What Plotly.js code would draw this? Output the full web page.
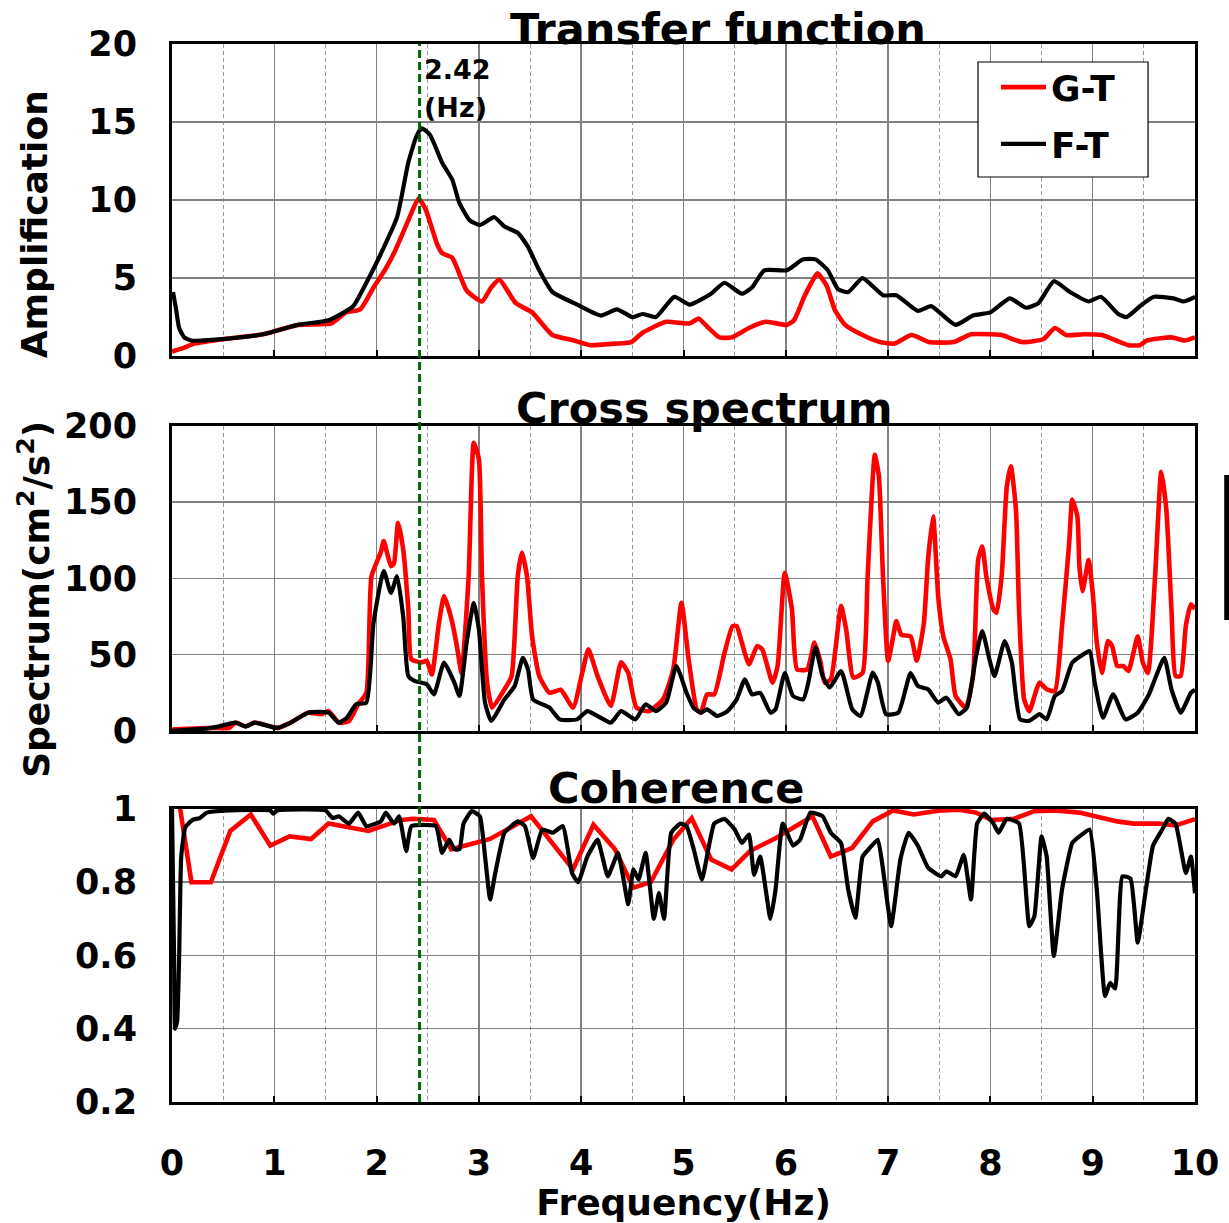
<!DOCTYPE html>
<html>
<head>
<meta charset="utf-8">
<script src="https://cdn.plot.ly/plotly-3.0.1.min.js"></script>
<style>
  html, body { margin: 0; padding: 0; background: #ffffff; }
  #chart { width: 1229px; height: 1223px; }
</style>
</head>
<body>
<div id="chart"></div>
<script>
// ---- Transfer function (amplification) ----
const tfFreqGT = [0.00, 0.10, 0.22, 0.52, 0.89, 1.23, 1.56, 1.70, 1.84, 1.97, 2.08, 2.17, 2.31, 2.41, 2.48, 2.59, 2.64, 2.74, 2.88, 3.03, 3.12, 3.20, 3.36, 3.52, 3.72, 3.93, 4.09, 4.33, 4.49, 4.60, 4.83, 5.00, 5.06, 5.15, 5.23, 5.35, 5.47, 5.64, 5.81, 6.01, 6.08, 6.18, 6.25, 6.31, 6.40, 6.48, 6.58, 6.75, 6.92, 7.06, 7.23, 7.40, 7.64, 7.81, 8.01, 8.11, 8.31, 8.52, 8.63, 8.74, 8.92, 9.09, 9.23, 9.35, 9.46, 9.53, 9.77, 9.90, 10.00];
const tfAmpGT  = [0.3, 0.5, 0.8, 1.1, 1.4, 2.0, 2.1, 2.8, 3.0, 4.4, 5.5, 6.6, 8.7, 10.1, 9.4, 7.2, 6.6, 6.3, 4.2, 3.5, 4.4, 4.9, 3.4, 2.8, 1.35, 1.0, 0.7, 0.8, 0.9, 1.5, 2.2, 2.1, 2.1, 2.4, 1.9, 1.2, 1.2, 1.8, 2.2, 2.0, 2.3, 3.8, 4.7, 5.3, 4.5, 2.95, 2.0, 1.35, 0.9, 0.8, 1.35, 0.9, 0.9, 1.4, 1.4, 1.35, 0.9, 1.1, 1.8, 1.35, 1.4, 1.35, 1.0, 0.7, 0.7, 1.0, 1.2, 1.0, 1.2];

const tfFreqFT = [0.01, 0.04, 0.07, 0.12, 0.19, 0.52, 0.89, 1.23, 1.53, 1.77, 1.90, 2.03, 2.20, 2.31, 2.39, 2.44, 2.52, 2.64, 2.74, 2.81, 2.91, 3.01, 3.15, 3.25, 3.38, 3.48, 3.59, 3.72, 3.93, 4.19, 4.35, 4.50, 4.60, 4.73, 4.91, 5.06, 5.27, 5.40, 5.57, 5.67, 5.79, 6.01, 6.17, 6.29, 6.41, 6.51, 6.61, 6.75, 6.95, 7.08, 7.29, 7.42, 7.66, 7.83, 8.00, 8.19, 8.35, 8.47, 8.62, 8.78, 8.96, 9.08, 9.25, 9.33, 9.48, 9.60, 9.79, 9.89, 10.00];
const tfAmpFT  = [4.1, 3.0, 1.8, 1.2, 1.0, 1.1, 1.4, 2.0, 2.3, 3.2, 4.7, 6.4, 8.9, 12.4, 14.1, 14.6, 14.2, 12.4, 11.3, 9.8, 8.7, 8.4, 8.9, 8.3, 7.9, 7.0, 5.5, 4.1, 3.4, 2.6, 3.0, 2.5, 2.7, 2.5, 3.8, 3.3, 4.0, 4.7, 4.0, 4.4, 5.5, 5.5, 6.2, 6.2, 5.5, 4.3, 4.1, 5.0, 3.9, 3.9, 2.9, 3.2, 2.0, 2.6, 2.8, 3.7, 3.1, 3.4, 4.8, 4.1, 3.5, 3.8, 2.7, 2.5, 3.3, 3.8, 3.7, 3.5, 3.8];

// ---- Cross spectrum (cm^2/s^2) ----
const csFreqGT = [0.00, 0.39, 0.56, 0.62, 0.72, 0.81, 1.03, 1.16, 1.33, 1.46, 1.53, 1.63, 1.73, 1.82, 1.90, 1.95, 2.04, 2.07, 2.14, 2.17, 2.21, 2.26, 2.31, 2.34, 2.44, 2.49, 2.54, 2.61, 2.66, 2.74, 2.79, 2.83, 2.90, 2.95, 3.00, 3.03, 3.08, 3.13, 3.25, 3.32, 3.38, 3.42, 3.47, 3.52, 3.59, 3.69, 3.80, 3.92, 4.01, 4.07, 4.16, 4.29, 4.39, 4.46, 4.54, 4.66, 4.80, 4.90, 4.98, 5.05, 5.13, 5.17, 5.23, 5.30, 5.40, 5.48, 5.52, 5.57, 5.64, 5.72, 5.77, 5.87, 5.92, 5.99, 6.06, 6.11, 6.21, 6.28, 6.34, 6.38, 6.44, 6.54, 6.59, 6.66, 6.75, 6.80, 6.87, 6.91, 6.95, 7.00, 7.05, 7.08, 7.13, 7.22, 7.28, 7.35, 7.39, 7.44, 7.49, 7.54, 7.61, 7.66, 7.76, 7.83, 7.88, 7.92, 7.96, 8.03, 8.06, 8.11, 8.16, 8.20, 8.25, 8.28, 8.33, 8.38, 8.48, 8.55, 8.63, 8.70, 8.77, 8.80, 8.85, 8.87, 8.90, 8.96, 9.00, 9.04, 9.09, 9.15, 9.19, 9.24, 9.30, 9.35, 9.44, 9.49, 9.54, 9.61, 9.67, 9.72, 9.77, 9.81, 9.86, 9.91, 9.96, 10.00];
const csValGT  = [1, 2, 2, 5.5, 3, 5.5, 2, 5.5, 12, 11, 13, 5.5, 6.5, 17.5, 25, 101.5, 117, 124.5, 108, 110, 136.5, 119, 80, 47, 45, 46, 37, 71, 88.4, 71, 53.5, 38, 101.5, 189, 178, 101.5, 31.7, 15.3, 27.3, 36, 101.5, 117, 101.5, 62, 36, 25, 27, 15.3, 38, 53.5, 36, 16.4, 45, 38, 15.3, 13, 20.7, 40.4, 84, 47, 14, 12, 24, 24, 51, 68.8, 68.8, 58, 43.7, 55.7, 53.5, 31.7, 42.6, 103.7, 79.7, 40.4, 40.4, 58, 45, 31.7, 33.8, 81.9, 66.6, 35, 38, 101.5, 181, 167, 101.5, 45.9, 62, 72, 63, 62, 46, 71, 112, 140.8, 88, 62, 47, 23, 15.3, 36, 112, 121, 101.5, 79.7, 77.5, 101.5, 160, 173.6, 145, 79.7, 20.7, 13, 31.7, 27.3, 26.2, 68.8, 123, 151.7, 140.8, 108, 91.7, 112, 90.6, 58, 38, 59, 55.7, 42.6, 42.6, 39.3, 62, 44.8, 38, 101.5, 170, 145, 79.7, 36, 36, 68.8, 83, 80];

const csFreqFT = [0.00, 0.39, 0.62, 0.72, 0.81, 1.03, 1.16, 1.33, 1.53, 1.63, 1.71, 1.80, 1.90, 1.97, 2.07, 2.14, 2.20, 2.26, 2.31, 2.37, 2.49, 2.56, 2.66, 2.76, 2.81, 2.88, 2.95, 3.00, 3.06, 3.12, 3.25, 3.35, 3.43, 3.48, 3.53, 3.69, 3.79, 3.96, 4.06, 4.16, 4.29, 4.39, 4.53, 4.63, 4.73, 4.83, 4.93, 5.03, 5.10, 5.17, 5.23, 5.33, 5.43, 5.52, 5.60, 5.67, 5.75, 5.85, 5.90, 5.99, 6.07, 6.17, 6.22, 6.29, 6.36, 6.43, 6.54, 6.65, 6.73, 6.85, 6.90, 6.98, 7.10, 7.22, 7.29, 7.39, 7.49, 7.57, 7.69, 7.77, 7.86, 7.92, 7.99, 8.04, 8.14, 8.21, 8.29, 8.38, 8.48, 8.55, 8.63, 8.70, 8.80, 8.88, 8.97, 9.02, 9.10, 9.20, 9.32, 9.44, 9.55, 9.62, 9.70, 9.77, 9.86, 9.96, 10.00];
const csValFT  = [0, 2, 5.5, 3, 5.5, 2, 5.5, 12, 12, 5.5, 8.7, 17.5, 18.6, 71, 104.8, 90.6, 101.5, 75, 36, 32.8, 30.6, 24, 44.8, 31.7, 23, 57.9, 84, 66.6, 18.6, 6.6, 20.7, 29.5, 48, 40.4, 20.7, 15.3, 7.6, 7.6, 13, 9.8, 5.5, 13, 7.6, 17.5, 13, 18.6, 42.6, 25, 15, 12, 14.2, 9.8, 13, 20.7, 33.8, 24, 25, 12, 14.2, 38, 23, 20.7, 31.7, 54.6, 36, 28.4, 39.3, 14.2, 9.8, 38.2, 31.7, 11, 12, 38, 29.5, 27.3, 18.6, 21.8, 11, 15.3, 49, 65.5, 47, 36, 59, 44.8, 7.6, 6.6, 11, 7.6, 23, 26.2, 44.8, 49, 52.4, 31.7, 8.7, 24, 7.6, 12, 24, 36, 48, 27.3, 12, 25, 27];

// ---- Coherence ----
const cohFreqGT = [0.08, 0.19, 0.38, 0.57, 0.77, 0.96, 1.15, 1.36, 1.53, 1.92, 2.24, 2.36, 2.56, 2.73, 3.11, 3.28, 3.51, 3.92, 4.12, 4.33, 4.51, 4.68, 4.90, 5.08, 5.27, 5.47, 5.65, 5.90, 6.26, 6.44, 6.65, 6.85, 7.05, 7.25, 7.49, 7.69, 7.86, 8.01, 8.23, 8.43, 8.63, 8.87, 9.24, 9.40, 9.64, 9.81, 10.00];
const cohValGT  = [1.0, 0.80, 0.80, 0.94, 0.985, 0.90, 0.925, 0.918, 0.96, 0.94, 0.97, 0.973, 0.97, 0.89, 0.918, 0.944, 0.98, 0.835, 0.957, 0.89, 0.785, 0.80, 0.916, 0.975, 0.862, 0.835, 0.885, 0.92, 0.98, 0.87, 0.894, 0.966, 0.996, 0.985, 0.995, 0.998, 0.99, 0.97, 0.973, 0.994, 0.996, 0.99, 0.966, 0.96, 0.96, 0.955, 0.972];

const cohFreqFT = [0.00, 0.02, 0.03, 0.05, 0.07, 0.09, 0.13, 0.20, 0.27, 0.34, 0.56, 0.96, 0.99, 1.03, 1.50, 1.57, 1.63, 1.73, 1.82, 1.90, 2.04, 2.09, 2.17, 2.22, 2.29, 2.34, 2.58, 2.64, 2.71, 2.76, 2.81, 2.85, 2.93, 3.01, 3.06, 3.11, 3.16, 3.25, 3.38, 3.45, 3.53, 3.62, 3.72, 3.82, 3.91, 3.97, 4.06, 4.16, 4.26, 4.36, 4.46, 4.51, 4.56, 4.63, 4.71, 4.76, 4.81, 4.88, 4.97, 5.03, 5.10, 5.18, 5.30, 5.40, 5.50, 5.57, 5.64, 5.69, 5.75, 5.85, 5.90, 5.97, 6.07, 6.14, 6.24, 6.36, 6.44, 6.54, 6.61, 6.68, 6.75, 6.81, 6.90, 6.95, 7.03, 7.12, 7.20, 7.29, 7.39, 7.52, 7.57, 7.66, 7.74, 7.81, 7.87, 7.94, 8.03, 8.08, 8.16, 8.28, 8.38, 8.43, 8.50, 8.55, 8.62, 8.70, 8.80, 8.87, 8.97, 9.04, 9.12, 9.17, 9.22, 9.29, 9.37, 9.44, 9.52, 9.59, 9.68, 9.74, 9.81, 9.91, 9.96, 10.00];
const cohValFT  = [1.0, 0.60, 0.40, 0.42, 0.60, 0.87, 0.95, 0.97, 0.975, 0.99, 0.996, 0.996, 0.987, 0.996, 0.996, 0.975, 0.98, 0.96, 0.99, 0.953, 0.966, 0.99, 0.96, 0.98, 0.885, 0.953, 0.953, 0.88, 0.916, 0.89, 0.89, 0.96, 0.994, 0.98, 0.87, 0.753, 0.825, 0.935, 0.966, 0.953, 0.866, 0.944, 0.935, 0.953, 0.825, 0.80, 0.87, 0.916, 0.816, 0.88, 0.74, 0.835, 0.807, 0.88, 0.70, 0.77, 0.70, 0.935, 0.96, 0.953, 0.89, 0.807, 0.96, 0.973, 0.944, 0.907, 0.93, 0.82, 0.87, 0.70, 0.78, 0.96, 0.90, 0.916, 0.99, 0.98, 0.935, 0.907, 0.78, 0.703, 0.87, 0.89, 0.916, 0.835, 0.68, 0.862, 0.935, 0.90, 0.84, 0.816, 0.83, 0.816, 0.875, 0.753, 0.96, 0.987, 0.96, 0.935, 0.973, 0.96, 0.68, 0.707, 0.925, 0.87, 0.598, 0.78, 0.907, 0.925, 0.944, 0.78, 0.489, 0.525, 0.51, 0.816, 0.81, 0.635, 0.78, 0.90, 0.944, 0.973, 0.96, 0.825, 0.87, 0.77];

const peakFreq = 2.42;
const seriesNames = ['G-T', 'F-T'];
const panelTitles = ['Transfer function', 'Cross spectrum', 'Coherence'];

const RED = '#ff0000';
const BLACK = '#000000';
const FONT = 'DejaVu Sans';

function line(x, y, name, color, width, xa, ya, legend, smooth) {
  const ln = { color: color, width: width };
  if (smooth) { ln.shape = 'spline'; ln.smoothing = smooth; }
  return {
    x: x, y: y, name: name, type: 'scatter', mode: 'lines',
    xaxis: xa, yaxis: ya, showlegend: legend, legendgroup: name,
    line: ln
  };
}

const traces = [
  line(tfFreqGT, tfAmpGT, seriesNames[0], RED, 4.6, 'x', 'y', true, 0.5),
  line(tfFreqFT, tfAmpFT, seriesNames[1], BLACK, 4.2, 'x', 'y', true, 0.5),
  line(csFreqGT, csValGT, seriesNames[0], RED, 4.6, 'x2', 'y2', false, 0.5),
  line(csFreqFT, csValFT, seriesNames[1], BLACK, 4.2, 'x2', 'y2', false, 0.5),
  line(cohFreqGT, cohValGT, seriesNames[0], RED, 4.6, 'x3', 'y3', false, 0),
  line(cohFreqFT, cohValFT, seriesNames[1], BLACK, 4.2, 'x3', 'y3', false, 0.4)
];

const tickFont = { family: FONT, size: 35, color: '#000', weight: 'bold' };
const axisTitleFont = { family: FONT, size: 36, color: '#000', weight: 'bold' };
const panelTitleFont = { family: FONT, size: 43, color: '#000', weight: 'bold' };

function xAxis(anchor, labels) {
  return {
    anchor: anchor, range: [0, 10], dtick: 1, tick0: 0,
    showticklabels: labels, tickfont: tickFont, ticklabelstandoff: 28,
    ticks: 'inside', ticklen: 6, tickwidth: 2, tickcolor: '#000',
    showgrid: true, gridcolor: '#808080', gridwidth: 1.5,
    minor: { dtick: 0.5, tick0: 0, showgrid: true, gridcolor: '#9a9a9a', gridwidth: 1, griddash: '4px,3px', ticks: '' },
    showline: true, linecolor: '#000', linewidth: 3, mirror: true,
    zeroline: false, fixedrange: true
  };
}
function yAxis(domain, range, dtick) {
  return {
    domain: domain, range: range, dtick: dtick, tick0: range[0],
    tickfont: tickFont, ticklabelstandoff: 25, ticks: '',
    showgrid: true, gridcolor: '#808080', gridwidth: 1.5,
    showline: true, linecolor: '#000', linewidth: 3, mirror: true,
    zeroline: false, fixedrange: true
  };
}

const xaFT = xAxis('y', false);
const xaCS = xAxis('y2', false);
const xaCoh = xAxis('y3', true);
xaCoh.title = { text: 'Frequency(Hz)', font: axisTitleFont, standoff: 6 };
xaFT.matches = 'x3';
xaCS.matches = 'x3';

function textNote(text, x, y, font, extra) {
  return Object.assign({ text: text, xref: 'paper', yref: 'paper', x: x, y: y,
    xanchor: 'center', yanchor: 'middle', showarrow: false, font: font }, extra || {});
}

const layout = {
  width: 1229, height: 1223,
  margin: { l: 172, r: 34, t: 44, b: 121 },
  paper_bgcolor: '#ffffff', plot_bgcolor: '#ffffff',
  showlegend: true,
  xaxis: xaFT, xaxis2: xaCS, xaxis3: xaCoh,
  yaxis: yAxis([0.705, 1], [0, 20], 5),
  yaxis2: yAxis([0.3507, 0.639], [0, 200], 50),
  yaxis3: yAxis([0, 0.277], [0.2, 1], 0.2),
  // legend entries sit inside the framed box drawn in shapes below
  legend: {
    x: 0.8055, y: 0.9875, xanchor: 'left', yanchor: 'top',
    bgcolor: 'rgba(0,0,0,0)', borderwidth: 0,
    font: { family: FONT, size: 36, color: '#000', weight: 'bold' },
    traceorder: 'grouped', tracegroupgap: 7, itemwidth: 45
  },
  annotations: [
    textNote(panelTitles[0], 0.534, 1.014, panelTitleFont),
    textNote(panelTitles[1], 0.521, 0.656, panelTitleFont),
    textNote(panelTitles[2], 0.493, 0.2968, panelTitleFont),
    // y-axis titles, rotated along the left edge
    textNote('Amplification', -0.1345, 0.83, axisTitleFont, { textangle: -90 }),
    textNote('Spectrum(cm<sup>2</sup>/s<sup>2</sup>)', -0.1345, 0.475, axisTitleFont, { textangle: -90 }),
    // resonance frequency label next to the dashed marker
    { text: peakFreq.toFixed(2), xref: 'x', yref: 'y', x: peakFreq + 0.02, y: 18.35,
      xanchor: 'left', yanchor: 'middle', showarrow: false,
      font: { family: FONT, size: 27, color: '#000', weight: 'bold' } },
    { text: '(Hz)', xref: 'x', yref: 'y', x: peakFreq + 0.02, y: 15.9,
      xanchor: 'left', yanchor: 'middle', showarrow: false,
      font: { family: FONT, size: 27, color: '#000', weight: 'bold' } }
  ],
  shapes: [
    { type: 'line', xref: 'x', yref: 'paper', x0: peakFreq, x1: peakFreq, y0: 0, y1: 1,
      line: { color: '#006400', width: 3, dash: '8px,4px' } },
    // legend frame
    { type: 'rect', xref: 'paper', yref: 'paper', x0: 0.7879, x1: 0.9541, y0: 0.8743, y1: 0.9830,
      fillcolor: '#ffffff', line: { color: '#000', width: 1.2 }, layer: 'above' },
    { type: 'line', xref: 'paper', yref: 'paper', x0: 1.031, x1: 1.031, y0: 0.4556, y1: 0.5926,
      line: { color: '#000', width: 5 } }
  ]
};

Plotly.newPlot('chart', traces, layout, { displayModeBar: false, staticPlot: true });
</script>
</body>
</html>
